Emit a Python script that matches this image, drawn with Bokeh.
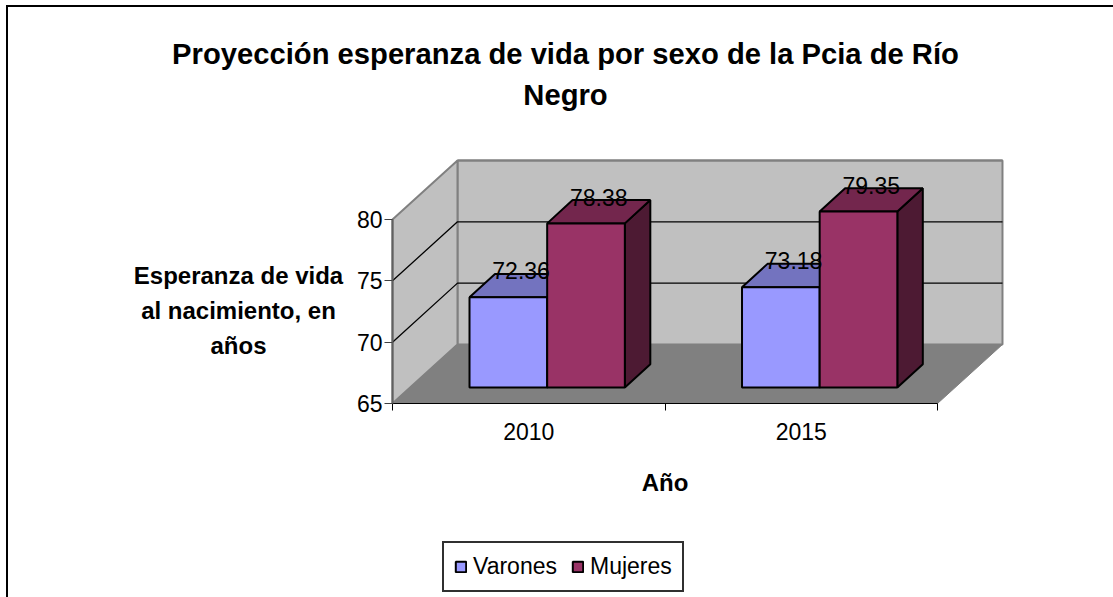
from bokeh.plotting import figure
from bokeh.embed import file_html
from bokeh.resources import INLINE
from bokeh.models import FixedTicker, Legend, LegendItem, LinearAxis, Range1d, Label
from bokeh.core.properties import value

categories = ["2010", "2015"]
series_names = ["Varones", "Mujeres"]
varones = [72.36, 73.18]
mujeres = [78.38, 79.35]
y_ticks = [65, 70, 75, 80]
title_lines = ["Proyección esperanza de vida por sexo de la Pcia de Río", "Negro"]
x_title = "Año"
y_title = "Esperanza de vida\nal nacimiento, en\naños"

FONT = "Liberation Sans"
CW, CH = 1113, 597
Y0, Y1 = 65, 80
W = len(categories)
# scale of the axes on the canvas
ORIGIN_X, ORIGIN_Y = 392, 403       # px position of the axes' crossing
PX_PER_CAT, PX_PER_YEAR = 272.5, 12.27
# pseudo-3D geometry, in axis units
WALL_DX, WALL_DY = 0.2385, 4.81     # depth of the chart box
BAR_W = 0.285                       # width of one bar
BAR_LEFT = 0.2826                   # start of group inside category
BAR_BASE = 1.30                     # bar base above the front edge
BAR_DX, BAR_DY = 0.0935, 1.90       # depth of a bar

p = figure(width=CW, height=CH, output_backend="svg", toolbar_location=None,
           x_range=Range1d(-ORIGIN_X / PX_PER_CAT, (CW - ORIGIN_X) / PX_PER_CAT),
           y_range=Range1d(Y0 - (CH - ORIGIN_Y) / PX_PER_YEAR, Y0 + ORIGIN_Y / PX_PER_YEAR),
           x_axis_type=None, y_axis_type=None, title=None,
           min_border=0, margin=(0, 0, 0, 0))
p.background_fill_color = "white"
p.border_fill_color = "white"
p.outline_line_color = None
p.grid.visible = False
p.stylesheets = [":host::before{content:'';position:absolute;left:6px;top:5px;right:-20px;bottom:-20px;"
                 "border-left:2px solid #000;border-top:2px solid #000;z-index:10;pointer-events:none}"]

GRAY = "#808080"
bx0, bx1 = WALL_DX, W + WALL_DX
by0, by1 = Y0 + WALL_DY, Y1 + WALL_DY
p.patch([bx0, bx1, bx1, bx0], [by0, by0, by1, by1], fill_color="#C0C0C0", line_color=GRAY, line_width=2)
p.patch([0, bx0, bx0, 0], [Y0, by0, by1, Y1], fill_color="#C0C0C0", line_color=GRAY, line_width=2)
p.patch([0, W, bx1, bx0], [Y0, Y0, by0, by0], fill_color=GRAY, line_color=GRAY, line_width=1)

for t in y_ticks[1:-1]:
    p.line([0, bx0, bx1], [t, t + WALL_DY, t + WALL_DY], line_color="black", line_width=1.3)
p.line([bx0, bx1], [Y1 + WALL_DY] * 2, line_color=GRAY, line_width=2)


def bar(x0, x1, top, front, top_col, side_col):
    base = Y0 + BAR_BASE
    t = base + (top - Y0)
    lw = 2
    p.patch([x1, x1 + BAR_DX, x1 + BAR_DX, x1], [base, base + BAR_DY, t + BAR_DY, t],
            fill_color=side_col, line_color="black", line_width=lw)
    p.patch([x0, x1, x1 + BAR_DX, x0 + BAR_DX], [t, t, t + BAR_DY, t + BAR_DY],
            fill_color=top_col, line_color="black", line_width=lw)
    return p.quad(left=[x0], right=[x1], bottom=[base], top=[t], fill_color=front,
                  line_color="black", line_width=lw)


labels_x, labels_y, labels_t = [], [], []
r_v = r_m = None
for i in range(W):
    x0 = i + BAR_LEFT
    r_v = bar(x0, x0 + BAR_W, varones[i], "#9999FF", "#7373BF", "#4D4D80")
    r_m = bar(x0 + BAR_W, x0 + 2 * BAR_W, mujeres[i], "#993366", "#73264D", "#4D1A33")
    for k, v in enumerate((varones[i], mujeres[i])):
        labels_x.append(x0 + (k + 0.5) * BAR_W + BAR_DX / 2)
        labels_y.append(Y0 + BAR_BASE + v - Y0 + BAR_DY)
        labels_t.append(f"{v:.2f}")

p.text(labels_x, labels_y, text=labels_t, text_font=value(FONT), text_font_size="23px",
       text_color="black", text_align="center", text_baseline="middle", y_offset=-3)

yaxis = LinearAxis(ticker=FixedTicker(ticks=y_ticks), bounds=(Y0, Y1), fixed_location=0,
                   axis_line_color="#606060", axis_line_width=2,
                   major_tick_line_color="#404040", major_tick_out=8, major_tick_in=0,
                   minor_tick_line_color=None,
                   major_label_text_font=FONT, major_label_text_font_size="23px",
                   major_label_text_color="black", major_label_standoff=2)
p.add_layout(yaxis, "left")

xaxis = LinearAxis(ticker=FixedTicker(ticks=[0.5, 1.5], minor_ticks=[0, 1, 2]), bounds=(0, 2),
                   fixed_location=Y0,
                   major_label_overrides={0.5: categories[0], 1.5: categories[1]},
                   axis_line_color="black", axis_line_width=1,
                   major_tick_line_color=None, major_tick_out=0, major_tick_in=0,
                   minor_tick_line_color="black", minor_tick_out=7, minor_tick_in=0,
                   major_label_text_font=FONT, major_label_text_font_size="23px",
                   major_label_text_color="black", major_label_standoff=12,
                   axis_label=x_title, axis_label_text_font=FONT, axis_label_text_font_style="bold",
                   axis_label_text_font_size="24px", axis_label_text_color="black",
                   axis_label_standoff=26)
p.add_layout(xaxis, "below")

p.add_layout(Label(text=y_title, x=238, y=CH - 310, x_units="screen", y_units="screen",
                   text_font=FONT, text_font_style="bold", text_font_size="24px",
                   text_color="black", text_align="center", text_baseline="middle",
                   text_line_height=1.31))

for line, sy in zip(title_lines, (53, 94)):
    p.add_layout(Label(text=line, x=565, y=CH - sy, x_units="screen", y_units="screen",
                       text_font=FONT, text_font_size="29.2px", text_font_style="bold",
                       text_color="black", text_align="center", text_baseline="middle"))

legend = Legend(items=[LegendItem(label=series_names[0], renderers=[r_v]),
                       LegendItem(label=series_names[1], renderers=[r_m])],
                orientation="horizontal", location=(442, 5),
                label_text_font=FONT, label_text_font_size="23px", label_text_color="black",
                border_line_color="#303030", border_line_alpha=1, border_line_width=2,
                background_fill_alpha=1,
                glyph_width=13, glyph_height=13, label_standoff=6, spacing=14, padding=10, margin=0)
p.add_layout(legend, "center")

open("out.html", "w").write(file_html(p, INLINE))
